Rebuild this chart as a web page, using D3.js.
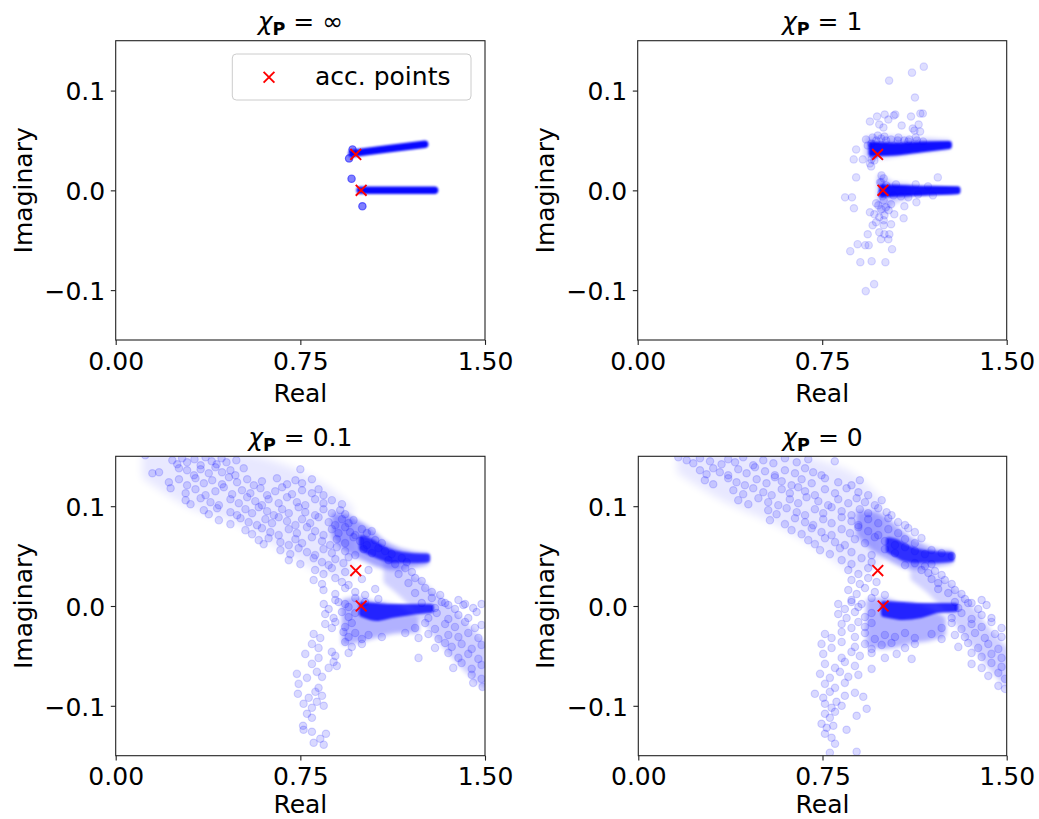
<!DOCTYPE html>
<html><head><meta charset="utf-8">
<script src="https://cdn.jsdelivr.net/npm/d3@7"></script>
<style>body{margin:0;background:#fff}svg{display:block}</style>
</head><body>
<svg id="chart" width="1039" height="819"></svg>
<script>
// ---------------- data ----------------
const xTickValues = [0, 0.75, 1.5];
const xTickLabels = ["0.00", "0.75", "1.50"];
const yTickValues = [-0.1, 0, 0.1];
const yTickLabels = ["\u22120.1", "0.0", "0.1"];
const titleValues = ["\u221e", "1", "0.1", "0"];
const legendLabel = "acc. points";
const accPointsTop = [[0.975, 0.036], [0.997, 0.0]];
const accPointsBottom = [[0.975, 0.0355], [0.997, 0.0]];

// chi_P = inf
const tlUpperBand = [[0.96, 0.037], [1.1, 0.0415], [1.255, 0.0463]];
const tlLowerBand = [[0.993, 0.0], [1.14, 0.0], [1.295, 0.0]];
const tlPoints = [[0.948, 0.032], [0.958, 0.0117], [1.002, -0.016], [0.962, 0.041]];

// chi_P = 1
const trHaloUpper = [[0.935, 0.051, 0.034], [1.0, 0.052, 0.035], [1.1, 0.05, 0.039], [1.2, 0.049, 0.042], [1.26, 0.048, 0.044]];
const trHaloLower = [[0.985, 0.013, -0.02], [1.0, 0.011, -0.02], [1.03, 0.006, -0.012], [1.1, 0.004, -0.006]];
const trCoreUpper = [[0.95, 0.046, 0.037], [1.05, 0.045, 0.038], [1.15, 0.046, 0.041], [1.265, 0.0465, 0.0445]];
const trCoreLower = [[0.993, 0.003, -0.004], [1.1, 0.002, -0.003], [1.2, 0.0015, -0.002], [1.3, 0.001, -0.001]];
const trPoints = [
[1.163,0.124],[1.115,0.118],[1.022,0.110],[1.127,0.093],[1.149,0.077],[1.159,0.077],[0.944,0.069],[0.973,0.074],
[1.004,0.076],[1.041,0.075],[1.047,0.076],[1.111,0.074],[0.982,0.066],[0.999,0.063],[1.019,0.071],[1.073,0.065],
[1.118,0.062],[1.142,0.066],[1.148,0.059],[1.125,0.060],[0.976,0.055],[1.003,0.054],[0.955,0.053],[0.928,0.051],
[1.03,0.051],[1.057,0.05],[1.084,0.05],[1.104,0.051],[1.135,0.05],[0.888,0.041],[0.878,0.031],[0.915,0.031],
[0.949,0.024],[0.944,0.027],[0.962,0.03],[0.888,0.013],[1.22,0.013],[0.991,0.015],[0.843,-0.007],[0.871,-0.007],
[0.879,-0.018],[0.969,-0.013],[0.978,-0.015],[1.009,-0.017],[1.03,-0.014],[1.084,-0.016],[1.133,-0.012],[0.944,-0.022],
[0.962,-0.024],[0.982,-0.027],[1.003,-0.025],[1.043,-0.024],[1.081,-0.028],[0.969,-0.032],[0.955,-0.035],[1.0,-0.035],
[1.03,-0.034],[0.935,-0.044],[0.982,-0.042],[1.003,-0.044],[1.023,-0.044],[0.989,-0.049],[1.019,-0.049],[0.894,-0.054],
[0.925,-0.055],[0.939,-0.055],[0.864,-0.061],[1.034,-0.059],[0.905,-0.072],[0.951,-0.071],[1.007,-0.072],[0.961,-0.094],
[0.927,-0.101],[0.935,0.045],[0.95,0.047],[0.97,0.05],[0.99,0.052],[1.01,0.05],[1.06,0.053],[1.1,0.049],[1.13,0.053],
[1.16,0.049],[0.96,0.035],[0.95,0.031],[0.99,0.008],[0.995,-0.006],[1.0,-0.01],[0.99,-0.003],[1.01,0.005],[1.04,-0.005],
[1.07,-0.006],[1.1,-0.007],[1.14,-0.004],[1.18,0.004],[1.2,-0.005],[1.13,0.006],[1.05,0.006],[1.0,0.012],[0.985,0.008],
[0.99,-0.019],[1.0,-0.03],[1.02,-0.02]
];

// chi_P = 0.1
const blHaloCloud = [[0.12,0.152,0.13],[0.3,0.153,0.102],[0.5,0.15,0.085],[0.7,0.137,0.055],[0.85,0.118,0.035],[0.95,0.098,0.03]];
const blHaloUpper = [[0.89,0.09,0.07],[0.93,0.089,0.06],[0.98,0.083,0.052],[1.03,0.075,0.046],[1.08,0.064,0.041],[1.14,0.056,0.039],[1.2,0.052,0.041],[1.26,0.05,0.044]];
const blHaloDiag = [[1.1,0.045,0.025],[1.18,0.033,0.008],[1.26,0.018,-0.015],[1.34,0.0,-0.04],[1.42,-0.02,-0.062],[1.5,-0.04,-0.08]];
const blHaloLower = [[0.93,0.004,-0.036],[0.98,0.006,-0.034],[1.04,0.002,-0.03],[1.1,0.0,-0.026],[1.16,-0.004,-0.024],[1.22,-0.012,-0.024]];
const blCoreUpper = [[1.0,0.068,0.058],[1.04,0.064,0.053],[1.08,0.058,0.049],[1.13,0.053,0.046],[1.2,0.05,0.046],[1.265,0.0495,0.0465]];
const blCoreLower = [[1.0,0.001,-0.008],[1.06,0.0,-0.012],[1.12,-0.001,-0.009],[1.2,-0.001,-0.006],[1.28,-0.001,-0.004]];
const blPoints = [
[0.12,0.151],[0.23,0.146],[0.25,0.142],[0.27,0.148],[0.29,0.144],[0.32,0.147],[0.345,0.141],[0.365,0.149],[0.39,0.145],[0.41,0.142],[0.43,0.148],[0.45,0.144],[0.49,0.146],
[0.149,0.133],[0.176,0.134],[0.257,0.138],[0.29,0.136],[0.318,0.131],[0.345,0.137],[0.378,0.133],[0.405,0.139],[0.432,0.134],[0.466,0.136],[0.486,0.131],[0.52,0.138],[0.75,0.137],
[0.216,0.124],[0.257,0.127],[0.29,0.121],[0.324,0.128],[0.358,0.123],[0.392,0.126],[0.432,0.122],[0.46,0.129],[0.493,0.124],[0.534,0.127],[0.561,0.121],[0.594,0.125],[0.655,0.128],[0.696,0.122],[0.73,0.126],[0.757,0.123],[0.797,0.127],
[0.223,0.118],[0.284,0.113],[0.324,0.117],[0.365,0.111],[0.405,0.115],[0.439,0.119],[0.473,0.112],[0.513,0.116],[0.547,0.113],[0.588,0.118],[0.615,0.111],[0.648,0.115],[0.676,0.119],[0.716,0.112],[0.757,0.116],[0.797,0.113],[0.824,0.117],[0.844,0.111],
[0.284,0.106],[0.304,0.102],[0.345,0.108],[0.385,0.104],[0.419,0.101],[0.466,0.107],[0.5,0.103],[0.534,0.109],[0.567,0.105],[0.594,0.101],[0.621,0.107],[0.662,0.103],[0.696,0.109],[0.736,0.104],[0.77,0.101],[0.81,0.107],[0.844,0.103],[0.878,0.106],[0.919,0.102],
[0.358,0.096],[0.378,0.092],[0.412,0.098],[0.466,0.094],[0.493,0.091],[0.527,0.097],[0.554,0.093],[0.581,0.099],[0.615,0.095],[0.642,0.091],[0.676,0.097],[0.703,0.093],[0.743,0.099],[0.77,0.094],[0.81,0.091],[0.844,0.097],[0.878,0.093],[0.912,0.096],[0.932,0.092],
[0.419,0.086],[0.466,0.082],[0.507,0.088],[0.54,0.084],[0.574,0.081],[0.608,0.087],[0.635,0.083],[0.662,0.089],[0.696,0.085],[0.73,0.081],[0.757,0.087],[0.79,0.083],[0.824,0.089],[0.865,0.084],[0.892,0.081],[0.919,0.087],[0.946,0.083],[0.966,0.086],
[0.527,0.076],[0.554,0.072],[0.594,0.078],[0.628,0.074],[0.662,0.071],[0.703,0.077],[0.736,0.073],[0.777,0.079],[0.81,0.075],[0.844,0.071],[0.878,0.077],[0.905,0.073],[0.932,0.079],[0.952,0.074],[0.973,0.071],[1.0,0.077],[1.02,0.073],[1.04,0.075],
[0.581,0.066],[0.601,0.062],[0.621,0.068],[0.669,0.064],[0.703,0.061],[0.73,0.067],[0.757,0.063],[0.797,0.069],[0.838,0.065],[0.871,0.061],[0.898,0.067],[0.932,0.063],[0.966,0.069],[0.993,0.065],[1.02,0.061],[1.054,0.066],[1.081,0.063],
[0.669,0.056],[0.709,0.052],[0.743,0.058],[0.777,0.054],[0.81,0.051],[0.844,0.057],[0.878,0.053],[0.898,0.059],[0.932,0.055],[0.973,0.051],[1.007,0.057],[1.041,0.053],[1.067,0.058],[1.094,0.055],[1.121,0.052],
[0.703,0.046],[0.75,0.042],[0.804,0.048],[0.838,0.044],[0.865,0.041],[0.892,0.047],[0.925,0.043],[0.946,0.049],[1.108,0.046],[1.135,0.042],[1.162,0.048],[1.182,0.044],
[0.81,0.036],[0.844,0.032],[0.878,0.038],[0.932,0.034],[1.027,0.036],[1.149,0.032],[1.176,0.038],[1.203,0.034],
[0.804,0.026],[0.838,0.022],[0.892,0.028],[0.919,0.024],[0.946,0.021],[1.0,0.027],[1.189,0.023],[1.216,0.028],[1.243,0.025],
[0.844,0.016],[0.892,0.012],[0.932,0.018],[0.973,0.014],[1.013,0.011],[1.054,0.017],[1.216,0.013],[1.257,0.018],[1.284,0.014],[1.318,0.011],
[0.892,0.006],[0.932,0.002],[0.973,0.008],[1.013,0.004],[1.067,0.007],[1.243,0.003],[1.284,0.008],[1.324,0.004],[1.351,0.001],[1.392,0.006],[1.419,0.002],
[0.845,0.002],[0.865,-0.003],[0.905,0.004],[0.946,-0.001],[1.297,-0.002],[1.338,0.003],[1.378,-0.003],[1.412,0.001],[1.452,-0.002],[1.486,0.002],
[0.851,-0.008],[0.885,-0.012],[0.919,-0.006],[0.946,-0.011],[0.973,-0.007],[1.27,-0.012],[1.304,-0.007],[1.351,-0.013],[1.392,-0.009],[1.432,-0.012],[1.466,-0.006],
[0.851,-0.018],[0.878,-0.022],[0.892,-0.016],[0.932,-0.021],[0.959,-0.017],[1.216,-0.022],[1.257,-0.017],[1.297,-0.023],[1.338,-0.018],[1.378,-0.021],[1.419,-0.016],[1.459,-0.022],[1.486,-0.019],
[0.804,-0.028],[0.831,-0.032],[0.925,-0.026],[0.946,-0.031],[0.973,-0.027],[1.0,-0.033],[1.027,-0.029],[1.081,-0.031],[1.176,-0.027],[1.23,-0.032],[1.27,-0.028],[1.311,-0.033],[1.351,-0.029],[1.392,-0.031],[1.432,-0.027],[1.473,-0.032],
[0.797,-0.038],[0.824,-0.042],[0.932,-0.036],[0.959,-0.041],[1.0,-0.038],[1.297,-0.042],[1.338,-0.037],[1.365,-0.041],[1.405,-0.038],[1.446,-0.043],[1.486,-0.039],
[0.77,-0.048],[0.824,-0.052],[0.878,-0.046],[0.892,-0.05],[0.946,-0.047],[1.23,-0.052],[1.351,-0.047],[1.392,-0.052],[1.432,-0.048],[1.473,-0.053],
[0.797,-0.058],[0.865,-0.062],[0.885,-0.056],[0.898,-0.06],[1.371,-0.062],[1.405,-0.057],[1.446,-0.063],[1.486,-0.059],
[0.736,-0.068],[0.777,-0.072],[0.817,-0.066],[0.838,-0.071],[1.446,-0.069],[1.486,-0.073],
[0.743,-0.078],[0.824,-0.082],[1.452,-0.077],[1.49,-0.081],
[0.74,-0.088],[0.784,-0.092],[0.811,-0.086],[0.838,-0.09],
[0.763,-0.098],[0.797,-0.102],[0.817,-0.096],[0.845,-0.1],
[0.777,-0.108],[0.797,-0.112],
[0.761,-0.12],[0.763,-0.124],[0.797,-0.126],
[0.804,-0.137],[0.831,-0.133],[0.854,-0.128],[0.845,-0.139]
];

// chi_P = 0
const brHaloCloud = [[0.17,0.152,0.135],[0.35,0.153,0.108],[0.55,0.152,0.086],[0.75,0.142,0.058],[0.9,0.125,0.035],[0.98,0.105,0.045]];
const brHaloUpper = [[0.9,0.092,0.072],[0.95,0.092,0.06],[1.0,0.087,0.052],[1.05,0.077,0.045],[1.1,0.067,0.04],[1.15,0.06,0.04],[1.2,0.055,0.042],[1.27,0.053,0.045]];
const brHaloDiag = [[1.12,0.042,0.028],[1.2,0.03,0.012],[1.28,0.015,-0.01],[1.36,-0.005,-0.035],[1.44,-0.03,-0.062],[1.5,-0.045,-0.078]];
const brHaloLower = [[0.94,0.004,-0.038],[1.0,0.005,-0.04],[1.06,0.001,-0.038],[1.12,0.0,-0.034],[1.18,-0.005,-0.032],[1.24,-0.013,-0.028]];
const brCoreUpper = [[1.02,0.066,0.056],[1.05,0.064,0.052],[1.08,0.06,0.048],[1.13,0.055,0.046],[1.2,0.052,0.046],[1.275,0.051,0.047]];
const brCoreLower = [[1.0,0.002,-0.008],[1.08,0.001,-0.011],[1.15,0.0,-0.009],[1.22,0.0,-0.004],[1.29,0.0,-0.003]];
const brPoints = [
[0.163,0.149],[0.197,0.146],[0.224,0.143],[0.251,0.148],[0.292,0.145],[0.339,0.142],[0.366,0.147],[0.394,0.144],[0.427,0.149],[0.468,0.141],[0.509,0.146],[0.55,0.143],[0.597,0.148],[0.645,0.144],[0.692,0.147],[0.80,0.145],
[0.251,0.136],[0.278,0.132],[0.305,0.138],[0.332,0.134],[0.366,0.131],[0.407,0.137],[0.441,0.133],[0.475,0.139],[0.516,0.135],[0.556,0.131],[0.597,0.136],[0.638,0.133],[0.679,0.138],[0.712,0.134],[0.746,0.131],
[0.271,0.126],[0.305,0.122],[0.366,0.128],[0.4,0.124],[0.434,0.121],[0.482,0.127],[0.522,0.123],[0.556,0.129],[0.584,0.125],[0.624,0.121],[0.665,0.127],[0.706,0.123],[0.76,0.128],[0.814,0.124],[0.868,0.121],[0.902,0.126],
[0.387,0.116],[0.427,0.112],[0.468,0.118],[0.509,0.114],[0.543,0.111],[0.584,0.117],[0.617,0.113],[0.651,0.119],[0.679,0.115],[0.719,0.111],[0.76,0.117],[0.801,0.113],[0.848,0.118],[0.896,0.114],[0.936,0.111],
[0.407,0.106],[0.448,0.102],[0.489,0.108],[0.529,0.104],[0.57,0.101],[0.617,0.107],[0.651,0.103],[0.685,0.109],[0.733,0.105],[0.773,0.101],[0.814,0.107],[0.855,0.103],[0.889,0.108],[0.923,0.104],[0.963,0.101],[0.991,0.106],
[0.529,0.096],[0.563,0.092],[0.604,0.098],[0.645,0.094],[0.679,0.091],[0.719,0.097],[0.753,0.093],[0.787,0.099],[0.828,0.095],[0.868,0.091],[0.902,0.097],[0.936,0.093],[0.977,0.098],[1.011,0.094],[1.031,0.091],
[0.536,0.086],[0.597,0.082],[0.638,0.088],[0.679,0.084],[0.712,0.081],[0.753,0.087],[0.787,0.083],[0.828,0.089],[0.868,0.085],[0.896,0.081],[0.936,0.087],[0.977,0.083],[1.018,0.088],[1.058,0.084],[1.086,0.081],
[0.624,0.076],[0.665,0.072],[0.706,0.078],[0.746,0.074],[0.787,0.071],[0.828,0.077],[0.862,0.073],[0.896,0.079],[0.936,0.075],[0.977,0.071],[1.018,0.077],[1.058,0.073],[1.099,0.078],[1.126,0.074],
[0.692,0.066],[0.719,0.062],[0.76,0.068],[0.801,0.064],[0.841,0.061],[0.882,0.067],[0.923,0.063],[0.963,0.069],[1.004,0.065],[1.045,0.061],[1.086,0.067],[1.126,0.063],[1.153,0.068],
[0.74,0.056],[0.78,0.052],[0.821,0.058],[0.868,0.054],[0.95,0.051],[1.004,0.057],[1.045,0.053],[1.086,0.059],[1.126,0.055],[1.167,0.052],[1.194,0.056],[1.235,0.053],[1.276,0.05],
[0.828,0.046],[0.868,0.042],[0.909,0.048],[0.95,0.044],[1.086,0.041],[1.126,0.043],[1.167,0.04],[1.194,0.042],
[0.855,0.036],[0.896,0.032],[0.936,0.038],[1.153,0.036],[1.181,0.033],[1.208,0.035],[1.235,0.031],
[0.868,0.026],[0.902,0.022],[0.936,0.028],[0.97,0.024],[1.194,0.027],[1.221,0.023],[1.248,0.026],[1.276,0.022],
[0.855,0.016],[0.889,0.012],[0.923,0.018],[0.963,0.014],[1.004,0.011],[1.221,0.017],[1.262,0.013],[1.289,0.016],[1.316,0.012],
[0.868,0.006],[0.909,0.002],[0.95,0.008],[1.289,0.004],[1.33,0.007],[1.357,0.003],[1.398,0.006],
[0.814,0.002],[0.841,-0.003],[0.868,0.004],[0.896,-0.001],[1.303,-0.002],[1.343,0.003],[1.384,-0.003],[1.418,0.001],
[0.814,-0.008],[0.848,-0.012],[0.882,-0.006],[0.923,-0.011],[0.95,-0.007],[1.276,-0.012],[1.316,-0.007],[1.357,-0.013],[1.398,-0.009],[1.438,-0.012],
[0.828,-0.018],[0.868,-0.022],[0.896,-0.016],[0.923,-0.021],[0.95,-0.017],[1.235,-0.022],[1.276,-0.017],[1.316,-0.023],[1.357,-0.018],[1.398,-0.021],[1.438,-0.016],[1.479,-0.022],
[0.76,-0.028],[0.787,-0.032],[0.828,-0.026],[0.882,-0.031],[0.923,-0.027],[0.963,-0.033],[1.004,-0.029],[1.045,-0.031],[1.086,-0.027],[1.126,-0.032],[1.194,-0.028],[1.235,-0.033],[1.289,-0.029],[1.33,-0.031],[1.371,-0.027],[1.411,-0.032],[1.452,-0.028],[1.479,-0.031],
[0.746,-0.038],[0.787,-0.042],[0.828,-0.036],[0.882,-0.041],[0.923,-0.038],[0.95,-0.043],[0.991,-0.039],[1.031,-0.037],[1.086,-0.042],[1.126,-0.038],[1.303,-0.041],[1.343,-0.037],[1.384,-0.042],[1.425,-0.038],[1.466,-0.043],
[0.753,-0.048],[0.828,-0.052],[0.868,-0.046],[0.902,-0.05],[0.95,-0.047],[1.004,-0.052],[1.052,-0.048],[1.113,-0.053],[1.357,-0.047],[1.398,-0.051],[1.438,-0.048],[1.479,-0.052],
[0.76,-0.058],[0.801,-0.062],[0.841,-0.056],[0.882,-0.06],[0.95,-0.063],[1.357,-0.058],[1.398,-0.062],[1.438,-0.057],[1.479,-0.061],
[0.74,-0.068],[0.78,-0.072],[0.821,-0.066],[0.855,-0.071],[0.896,-0.069],[1.425,-0.07],[1.466,-0.067],[1.493,-0.073],
[0.76,-0.078],[0.801,-0.082],[0.841,-0.077],[1.466,-0.08],[1.493,-0.083],
[0.719,-0.088],[0.753,-0.092],[0.78,-0.086],[0.841,-0.09],[0.882,-0.087],[0.916,-0.091],
[0.76,-0.098],[0.787,-0.102],[0.807,-0.096],[0.828,-0.1],[0.93,-0.103],
[0.76,-0.108],[0.78,-0.112],[0.801,-0.106],[0.889,-0.11],
[0.746,-0.118],[0.767,-0.122],[0.794,-0.12],[0.848,-0.124],
[0.76,-0.128],[0.787,-0.132],[0.801,-0.138],[0.78,-0.147],[0.889,-0.146]
];

// ---------------- layout ----------------
const FONT = "'DejaVu Sans', sans-serif";
const panels = [
  {box:{l:115.7, r:485,   t:40.7,  b:340},   title:titleValues[0], pts:tlPoints, ptAlpha:0.5,
   lines:[tlUpperBand, tlLowerBand], clouds:[], halos:[], cores:[], acc:accPointsTop, legend:true, lab:61.5},
  {box:{l:637.7, r:1006.7, t:40.7, b:340},   title:titleValues[1], pts:trPoints, ptAlpha:0.13,
   lines:[], clouds:[], halos:[[trHaloUpper,0.2],[trHaloLower,0.2]], cores:[[trCoreUpper,0.92],[trCoreLower,0.92]], acc:accPointsTop, lab:61.5},
  {box:{l:115.7, r:485,   t:456.3, b:755.7}, title:titleValues[2], pts:blPoints, ptAlpha:0.15,
   lines:[], clouds:[[blHaloCloud,0.09]], halos:[[blHaloUpper,0.36],[blHaloDiag,0.18],[blHaloLower,0.3]], cores:[[blCoreUpper,0.72],[blCoreLower,0.8]], acc:accPointsBottom, lab:57},
  {box:{l:638.3, r:1006.7, t:456.3, b:755.7}, title:titleValues[3], pts:brPoints, ptAlpha:0.15,
   lines:[], clouds:[[brHaloCloud,0.09]], halos:[[brHaloUpper,0.32],[brHaloDiag,0.18],[brHaloLower,0.3]], cores:[[brCoreUpper,0.72],[brCoreLower,0.8]], acc:accPointsBottom, lab:57}
];

const svg = d3.select("#chart");
const defs = svg.append("defs");
function blurFilter(id, sd) {
  defs.append("filter").attr("id", id).attr("filterUnits", "userSpaceOnUse")
    .attr("x", 0).attr("y", 0).attr("width", 1039).attr("height", 819)
    .append("feGaussianBlur").attr("stdDeviation", sd);
}
blurFilter("softW", 4);
blurFilter("softH", 2);
blurFilter("softC", 0.9);

const xMark = "M-5.4,-5.4L5.4,5.4M-5.4,5.4L5.4,-5.4";

panels.forEach((p, i) => {
  const b = p.box;
  const x = d3.scaleLinear().domain([0, 1.5]).range([b.l, b.r]);
  const y = d3.scaleLinear().domain([-0.15, 0.15]).range([b.b, b.t]);
  const g = svg.append("g");
  const cid = "clip" + i;
  defs.append("clipPath").attr("id", cid).append("rect")
    .attr("x", b.l).attr("y", b.t).attr("width", b.r - b.l).attr("height", b.b - b.t);
  const plot = g.append("g").attr("clip-path", `url(#${cid})`);

  const area = d3.area().x(d => x(d[0])).y0(d => y(d[2])).y1(d => y(d[1])).curve(d3.curveMonotoneX);
  const drawArea = (arr, op, filt) => plot.append("path").attr("d", area(arr)).attr("fill", "#0000ff").attr("stroke", "#0000ff")
      .attr("stroke-width", 6).attr("stroke-linejoin", "round").attr("opacity", op).attr("filter", `url(#${filt})`);

  p.clouds.forEach(([arr, op]) => drawArea(arr, op, "softW"));
  p.halos.forEach(([arr, op]) => drawArea(arr, op, "softH"));

  plot.append("g").selectAll("circle").data(p.pts).join("circle")
    .attr("cx", d => x(d[0])).attr("cy", d => y(d[1])).attr("r", 3.7)
    .attr("fill", "#0000ff").attr("fill-opacity", p.ptAlpha)
    .attr("stroke", "#0000ff").attr("stroke-opacity", p.ptAlpha).attr("stroke-width", 1.2);

  p.cores.forEach(([arr, op]) => drawArea(arr, op, "softC"));

  const line = d3.line().x(d => x(d[0])).y(d => y(d[1])).curve(d3.curveMonotoneX);
  p.lines.forEach(arr => {
    plot.append("path").attr("d", line(arr)).attr("fill", "none").attr("stroke", "#0000ff")
      .attr("stroke-width", 7.5).attr("stroke-linecap", "round").attr("opacity", 0.97).attr("filter", "url(#softC)");
  });

  plot.append("g").selectAll("path").data(p.acc).join("path")
    .attr("transform", d => `translate(${x(d[0])},${y(d[1])})`).attr("d", xMark)
    .attr("stroke", "#ff0000").attr("stroke-width", 1.9).attr("fill", "none");

  // spines
  g.append("rect").attr("x", b.l).attr("y", b.t).attr("width", b.r - b.l).attr("height", b.b - b.t)
    .attr("fill", "none").attr("stroke", "#222").attr("stroke-width", 1.1);

  // x axis
  const xa = g.append("g").attr("transform", `translate(0,${b.b})`)
    .call(d3.axisBottom(x).tickValues(xTickValues).tickFormat((d, k) => xTickLabels[k]).tickSize(4.9).tickSizeOuter(0));
  xa.select(".domain").remove();
  xa.attr("font-family", FONT).attr("font-size", 25);
  xa.selectAll("line").attr("stroke", "#222").attr("stroke-width", 1.1);
  xa.selectAll("text").attr("y", 29.5).attr("dy", null).attr("fill", "#000");

  // y axis
  const ya = g.append("g").attr("transform", `translate(${b.l},0)`)
    .call(d3.axisLeft(y).tickValues(yTickValues).tickFormat((d, k) => yTickLabels[k]).tickSize(4.9).tickSizeOuter(0));
  ya.select(".domain").remove();
  ya.attr("font-family", FONT).attr("font-size", 25);
  ya.selectAll("line").attr("stroke", "#222").attr("stroke-width", 1.1);
  ya.selectAll("text").attr("x", -10.5).attr("dy", null).attr("y", 9.2).attr("fill", "#000");

  // axis labels
  g.append("text").attr("x", (b.l + b.r) / 2).attr("y", b.b + p.lab).attr("text-anchor", "middle")
    .attr("font-family", FONT).attr("font-size", 25).text("Real");
  g.append("text").attr("transform", `translate(${b.l - 84},${(b.t + b.b) / 2}) rotate(-90)`)
    .attr("text-anchor", "middle").attr("font-family", FONT).attr("font-size", 25).text("Imaginary");

  // title
  const t = g.append("text").attr("x", (b.l + b.r) / 2).attr("y", b.t - 10.5).attr("text-anchor", "middle")
    .attr("font-family", FONT).attr("font-size", 25);
  t.append("tspan").attr("font-style", "italic").text("\u03c7");
  t.append("tspan").attr("font-weight", "bold").attr("font-size", 17.5).attr("dy", 5).text("P");
  t.append("tspan").attr("dy", -5).text(" = " + p.title);

  if (p.legend) {
    const lg = g.append("g");
    lg.append("rect").attr("x", 232.3).attr("y", 54).attr("width", 238.7).attr("height", 46).attr("rx", 4)
      .attr("fill", "#fff").attr("fill-opacity", 0.8).attr("stroke", "#cccccc").attr("stroke-width", 1);
    lg.append("path").attr("transform", "translate(269,77.3)").attr("d", xMark)
      .attr("stroke", "#ff0000").attr("stroke-width", 1.9).attr("fill", "none");
    lg.append("text").attr("x", 315).attr("y", 84.5).attr("font-family", FONT).attr("font-size", 25).text(legendLabel);
  }
});
</script>
</body></html>
